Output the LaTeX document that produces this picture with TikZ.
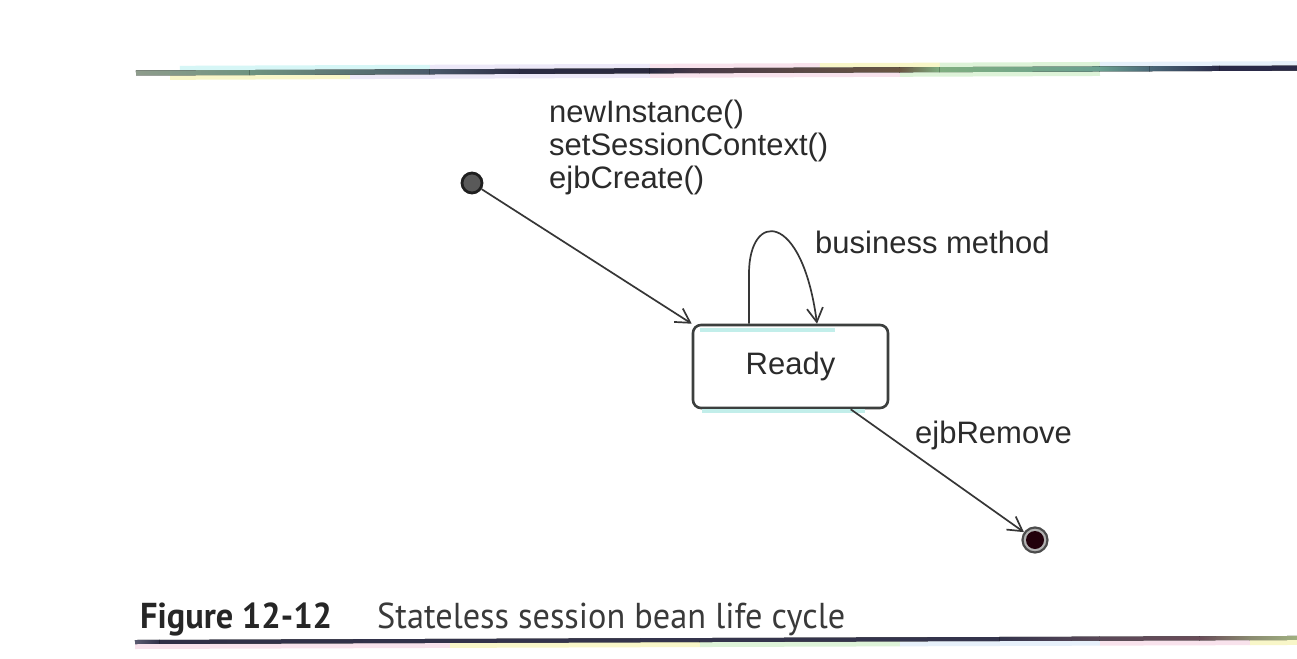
\documentclass[tikz,border=0pt]{standalone}
\usepackage{fontspec}
\usepackage{graphicx}
\setmainfont{Liberation Sans}
\newfontfamily\capfont{PT Sans}
\usetikzlibrary{arrows.meta,calc}

\definecolor{txt}{HTML}{2B2B2B}
\definecolor{lineink}{HTML}{363636}
\definecolor{boxink}{HTML}{3C3F3E}
\definecolor{captxt}{HTML}{262626}
\definecolor{capreg}{HTML}{3A3A3A}
% rule colours
\definecolor{rA}{HTML}{8E9C8C}
\definecolor{rB}{HTML}{6F9480}
\definecolor{rC}{HTML}{4A5A6A}
\definecolor{rD}{HTML}{2C2C44}
\definecolor{rE}{HTML}{2A2A40}
\definecolor{rF}{HTML}{4A3A48}
\definecolor{rG}{HTML}{6A5642}
\definecolor{rH}{HTML}{7FAE80}
\definecolor{rI}{HTML}{6AA090}
\definecolor{rJ}{HTML}{4A6878}
\definecolor{rK}{HTML}{2A2A48}
\definecolor{bA}{HTML}{5A5A70}
\definecolor{bB}{HTML}{303048}
\definecolor{bC}{HTML}{34344C}
\definecolor{bD}{HTML}{5A4858}
\definecolor{bE}{HTML}{6A4C58}
\definecolor{bF}{HTML}{8A8A70}
\definecolor{bG}{HTML}{A0B080}
% halo colours
\definecolor{hCyan}{HTML}{D6F6F6}
\definecolor{hYel}{HTML}{F8F6C8}
\definecolor{hLav}{HTML}{ECE8F8}
\definecolor{hPink}{HTML}{F8E2EC}
\definecolor{hGreen}{HTML}{DDF3D8}
\definecolor{hBlue}{HTML}{E6F0FA}
\definecolor{tint}{HTML}{C2EEEA}

\begin{document}
\begin{tikzpicture}[x=1pt,y=-1pt,
  lbl/.style={text=txt, font=\fontsize{31}{34}\selectfont, inner sep=0pt, anchor=base west},
  trans/.style={draw=lineink, line width=1.7pt, -{Straight Barb[length=14pt,width=16pt]}},
  statebox/.style={draw=boxink, line width=2.6pt, rounded corners=8pt,
    minimum width=195pt, minimum height=83pt, inner sep=0pt,
    text=txt, font=\fontsize{31}{34}\selectfont},
  initstate/.style={circle, fill=black!65, draw=black!88, line width=2.8pt,
    minimum size=20pt, inner sep=0pt},
  finalstate/.style={circle, draw=black!70, line width=2.2pt, fill=black!30,
    minimum size=25pt, inner sep=0pt,
    path picture={\fill[black!82!purple] (path picture bounding box.center) circle (9pt);}},
  haloabove/.style={fill=#1},
  halobelow/.style={fill=#1}
]
\useasboundingbox (0,0) rectangle (1297,658);
\fill[white] (0,0) rectangle (1297,658);

% ---- top coloured rule ----
\begin{scope}[rotate around={0.24:(136,73)}]
  \foreach \xa/\xb/\c in {180/430/hCyan, 430/650/hLav, 650/820/hPink,
      820/940/hYel, 940/1100/hGreen, 1100/1297/hBlue}
    \path[haloabove=\c] (\xa,66) rectangle (\xb,70.5);
  \foreach \xa/\xb/\c in {170/350/hYel, 350/650/hLav, 650/900/hPink,
      900/1100/hGreen}
    \path[halobelow=\c] (\xa,75.5) rectangle (\xb,80);
  \foreach \xa/\xb/\ca/\cb in {136/250/rA/rB, 249.5/430/rB/rC, 429.5/520/rC/rD, 519.5/650/rD/rE,
      649.5/700/rE/rF, 699.5/900/rF/rG, 899.5/940/rG/rH, 939.5/1100/rH/rI,
      1099.5/1150/rI/rJ, 1149.5/1220/rJ/rK, 1219.5/1297/rK/rK}
    \fill[left color=\ca, right color=\cb] (\xa,70.5) rectangle (\xb,75.5);
\end{scope}

% ---- bottom coloured rule ----
\begin{scope}[rotate around={0.2:(135,642)}]
  \foreach \xa/\xb/\c in {135/450/hPink, 450/700/hYel, 700/900/hGreen,
      900/1100/hBlue, 1100/1250/hPink, 1250/1297/hYel}
    \path[halobelow=\c] (\xa,644) rectangle (\xb,649);
  \foreach \xa/\xb/\ca/\cb in {135/160/bA/bB, 159.5/700/bB/bC, 699.5/1000/bC/bC,
      999.5/1100/bC/bD, 1099.5/1200/bD/bE, 1199.5/1250/bE/bF, 1249.5/1297/bF/bG}
    \fill[left color=\ca, right color=\cb] (\xa,640) rectangle (\xb,644);
\end{scope}

% ---- states ----
\node[initstate] (init) at (472,183) {};
\node[statebox] (ready) at (790.5,366.5) {};
\fill[tint] (700,327.5) rectangle (835,332);
\fill[tint] (702,409) rectangle (865,413);
\node[text=txt, font=\fontsize{31}{34}\selectfont, inner sep=0pt] (readylbl) at (ready.center) {Ready};
\node[finalstate] (final) at (1035,540) {};

% ---- transitions ----
\draw[trans] (init) -- (ready.north west);
\coordinate (loopA) at ($(ready.north)+(-41.5,0)$);
\coordinate (loopB) at ($(ready.north)+(26.5,0)$);
\draw[trans] (loopA) -- ++(0,-50) .. controls +(0,-63) and +(-15,-113) .. (loopB);
\draw[trans] (ready) -- (final);

% ---- labels ----
\node[lbl] (create1) at (549,122) {newInstance()};
\node[lbl] (create2) at (549,155) {setSessionContext()};
\node[lbl] (create3) at (549,188) {ejbCreate()};
\node[lbl] (bizlbl) at (815,253) {business method};
\node[lbl] (removelbl) at (915,443) {ejbRemove};

% ---- caption ----
\node[anchor=base west, inner sep=0pt, text=captxt] (fignum) at (140,628)
  {\resizebox{192pt}{\height}{\capfont\bfseries\fontsize{36}{40}\selectfont Figure 12-12}};
\node[anchor=base west, inner sep=0pt, text=capreg] (figtitle) at (377,628)
  {\resizebox{468pt}{\height}{\capfont\fontsize{36}{40}\selectfont Stateless session bean life cycle}};
\end{tikzpicture}
\end{document}
